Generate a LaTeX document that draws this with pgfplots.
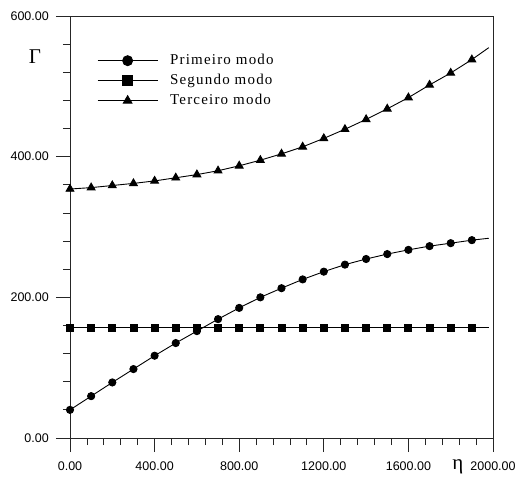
\documentclass[border=0pt]{standalone}
\usepackage{fontspec}
\setmainfont{Liberation Sans}
\newfontfamily\seriffont{Liberation Serif}
\newfontfamily\legendfont[LetterSpace=8]{Liberation Serif}
\usepackage{pgfplots}
\pgfplotsset{compat=1.18}

\begin{document}
\begin{tikzpicture}
\path[use as bounding box] (-70pt,-41pt) rectangle (448pt,438pt);
\begin{axis}[
  at={(0pt,0pt)}, anchor=south west,
  scale only axis, width=423pt, height=422pt,
  xmin=0, xmax=2000, ymin=0, ymax=600,
  clip=false,
  axis line style={black!85, line width=0.8pt},
  xtick={0,400,...,2000},
  xticklabels={0.00,400.00,800.00,1200.00,1600.00,2000.00},
  ytick={0,200,400,600},
  yticklabels={0.00,200.00,400.00,600.00},
  minor tick num=4,
  tick align=outside, tick pos=left,
  major tick length=14pt, minor tick length=7pt,
  every tick/.style={black!85, line width=0.8pt},
  xticklabel style={font=\fontsize{12.5}{14}\selectfont, anchor=center, inner sep=0pt, yshift=-14pt},
  yticklabel style={font=\fontsize{12.5}{14}\selectfont, anchor=east, inner sep=0pt, xshift=-7pt},
  legend image code/.code={
    \draw[#1, mark=none] (0pt,0pt) -- (60pt,0pt);
    \draw[#1, mark size=5pt] plot coordinates {(30pt,0pt)};
  },
  legend cell align=left,
  legend style={draw=none, fill=none, at={(axis description cs:0.0638,0.91)}, anchor=north west,
    inner sep=0pt, row sep=7pt, font=\legendfont\fontsize{15}{15}\selectfont,
    nodes={inner sep=0pt, text height=10pt, text depth=3pt},
    /tikz/every odd column/.append style={column sep=12pt}},
]
% first mode
\addplot[black, line width=0.9pt, mark=*, mark size=3.6pt, mark indices={1,...,20}] coordinates {
  (0,40) (100,59.5) (200,79) (300,98) (400,117) (500,135) (600,152) (700,169)
  (800,185) (900,200) (1000,213) (1100,225.5) (1200,236.5) (1300,246.5)
  (1400,254.5) (1500,261.5) (1600,267.5) (1700,272.8) (1800,277) (1900,281.3) (1980,284)
};
\addlegendentry{Primeiro modo}
% second mode
\addplot[black, line width=0.9pt, mark=square*, mark size=3.5pt, mark indices={1,...,20}] coordinates {
  (0,157) (100,157) (200,157) (300,157) (400,157) (500,157) (600,157) (700,157)
  (800,157) (900,157) (1000,157) (1100,157) (1200,157) (1300,157)
  (1400,157) (1500,157) (1600,157) (1700,157) (1800,157) (1900,157) (1980,157)
};
\addlegendentry{Segundo modo}
% third mode
\addplot[black, line width=0.9pt, mark=triangle*, mark size=4.5pt, mark indices={1,...,20}] coordinates {
  (0,354) (100,356) (200,359) (300,362) (400,365.5) (500,370) (600,374.5) (700,380)
  (800,387) (900,395) (1000,404) (1100,414) (1200,426) (1300,439)
  (1400,453) (1500,468) (1600,484) (1700,502) (1800,519) (1900,538) (1980,555)
};
\addlegendentry{Terceiro modo}
% axis symbols
\node[font=\seriffont\fontsize{21}{21}\selectfont] at (axis description cs:-0.0827,0.903) {Γ};
\node[font=\seriffont\fontsize{21}{21}\selectfont] at (axis description cs:0.917,-0.069) {η};
\end{axis}
\end{tikzpicture}
\end{document}
